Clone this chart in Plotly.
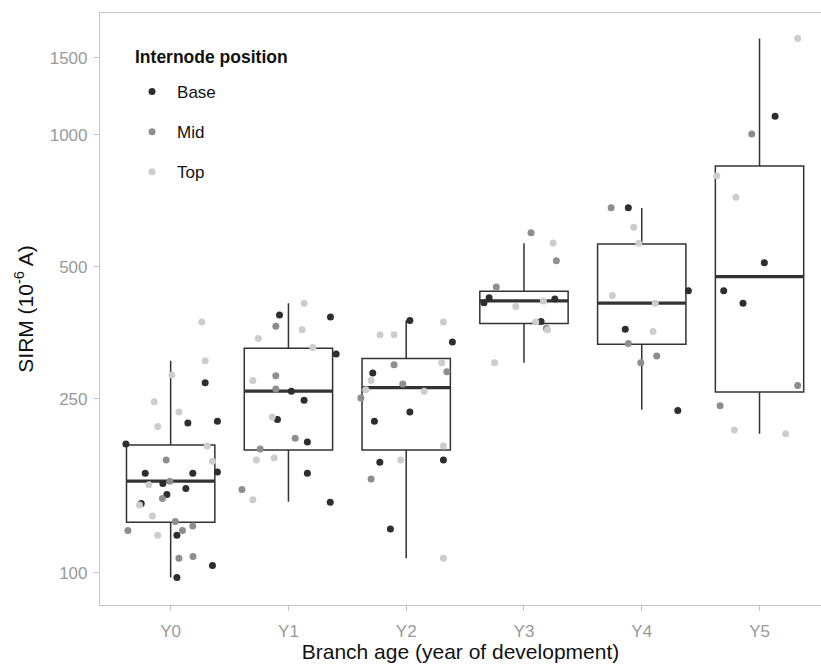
import plotly.graph_objects as go

# ---------------- data ----------------
categories = ["Y0", "Y1", "Y2", "Y3", "Y4", "Y5"]
positions = ["Base", "Mid", "Top"]

# box statistics (10^-6 A)
box_q1 = [130.5, 191, 191, 371, 333, 259]
box_median = [162, 260, 265, 418, 413, 475]
box_q3 = [196, 326, 309, 440, 564, 850]
box_low = [97.6, 145.5, 108, 302, 236, 208]
box_high = [305, 413, 377, 566, 681, 1660]

# jittered points: (category index, jitter, value)
base_cat = [0]*14 + [1]*9 + [2]*8 + [3]*4 + [4]*4 + [5]*4
base_jit = [0.293, 0.146, 0.397, -0.38, -0.216, 0.188, 0.397, -0.066, 0.129, -0.032, -0.25, 0.053, 0.355, 0.053,
            -0.076, 0.357, 0.405, 0.025, 0.133, -0.093, 0.161, 0.161, 0.355,
            0.031, 0.392, -0.284, 0.031, -0.27, -0.224, 0.316, -0.134,
            -0.296, -0.34, 0.262, 0.145,
            -0.114, 0.396, -0.14, 0.306,
            0.132, 0.041, -0.304, -0.14]
base_val = [272, 220, 222, 197, 169, 169, 170, 160, 156, 151, 144, 122, 104, 97.6,
            388, 384, 316, 260, 248, 224, 199, 169, 145,
            377, 337, 286, 233, 222, 179, 181, 126,
            425, 414, 422, 375,
            682, 441, 360, 235,
            1103, 511, 441, 413]

mid_cat = [0]*9 + [1]*6 + [2]*5 + [3]*4 + [4]*4 + [5]*3
mid_jit = [-0.038, -0.007, -0.07, 0.04, 0.1, 0.188, -0.363, 0.07, 0.19,
           -0.107, -0.107, -0.107, 0.057, -0.24, -0.395,
           -0.103, 0.345, -0.029, -0.385, -0.298,
           0.06, 0.275, -0.235, 0.19,
           -0.26, -0.114, -0.008, 0.127,
           -0.066, 0.324, -0.335]
mid_val = [181, 162, 148, 131, 125, 128, 125, 108, 109,
           366, 282, 263, 203, 192, 155,
           299, 288, 270, 251, 164,
           598, 516, 450, 362,
           682, 334, 302, 313,
           1005, 268, 241]

top_cat = [0]*12 + [1]*9 + [2]*10 + [3]*6 + [4]*5 + [5]*5
top_jit = [0.265, 0.293, 0.01, -0.14, 0.07, -0.11, 0.31, 0.355, -0.185, -0.265, -0.155, -0.11,
           0.133, -0.255, 0.116, 0.207, -0.302, -0.138, -0.272, -0.121, -0.302,
           0.316, -0.222, -0.103, 0.302, -0.298, -0.343, 0.152, 0.316, -0.046, 0.316,
           0.247, -0.07, 0.165, 0.1, 0.2, -0.25,
           -0.068, -0.025, -0.25, 0.115, 0.096,
           0.324, -0.363, -0.2, -0.214, 0.222]
top_val = [374, 305, 283, 246, 233, 216, 195, 180, 159, 143, 135, 122,
           413, 343, 359, 327, 275, 227, 181, 183, 147,
           374, 350, 350, 302, 275, 262, 260, 195, 181, 108,
           567, 406, 418, 374, 359, 302,
           616, 566, 430, 413, 356,
           1660, 807, 721, 212, 208]

y_ticks = [100, 250, 500, 1000, 1500]

colors = {"Base": "#2e2e2e", "Mid": "#8e8e8e", "Top": "#cdcdcd"}

# ---------------- figure ----------------
fig = go.Figure()

idx = list(range(len(categories)))
fig.add_trace(go.Box(
    x=idx, q1=box_q1, median=box_median, q3=box_q3,
    lowerfence=box_low, upperfence=box_high,
    boxpoints=False, width=0.75, whiskerwidth=0,
    line=dict(color="#333333", width=1.5), fillcolor="rgba(255,255,255,0)",
    showlegend=False, hoverinfo="skip",
))

# thicker median bars
mx, my = [], []
for i, m in zip(idx, box_median):
    mx += [i - 0.375, i + 0.375, None]
    my += [m, m, None]
fig.add_trace(go.Scatter(x=mx, y=my, mode="lines",
                         line=dict(color="#333333", width=3.2),
                         showlegend=False, hoverinfo="skip"))

for name, cats, jit, vals in [("Base", base_cat, base_jit, base_val),
                              ("Mid", mid_cat, mid_jit, mid_val),
                              ("Top", top_cat, top_jit, top_val)]:
    fig.add_trace(go.Scatter(
        x=[c + j for c, j in zip(cats, jit)], y=vals, mode="markers", name=name,
        legendgroup=name,
        marker=dict(color=colors[name], size=7, line=dict(width=0)),
    ))

FONT = "Liberation Sans, Arial, sans-serif"
axis_font = dict(family=FONT, size=17, color="#999999")
fig.update_layout(
    width=821, height=664,
    margin=dict(l=100, r=0, t=13, b=59),
    paper_bgcolor="white", plot_bgcolor="white",
    font=dict(family=FONT, color="#000000"),
    legend=dict(
        x=0.0375, y=0.897, xanchor="left", yanchor="top",
        bgcolor="rgba(255,255,255,0)",
        font=dict(size=17, color="#111111"),
        tracegroupgap=15, itemsizing="trace", itemwidth=40,
    ),
    annotations=[dict(
        text="<b>Internode position</b>", xref="paper", yref="paper",
        x=0.0458, y=0.9257, xanchor="left", yanchor="middle", showarrow=False,
        font=dict(family=FONT, size=17.5, color="#111111"),
    )],
    xaxis=dict(
        range=[-0.6, 5.522], tickvals=idx, ticktext=categories,
        showline=True, linecolor="#c4c4c4", linewidth=1.2, mirror=True,
        ticks="outside", ticklen=5, tickcolor="#c4c4c4", tickwidth=1.2,
        ticklabelstandoff=5,
        showgrid=False, zeroline=False, tickfont=axis_font,
        title=dict(text="Branch age (year of development)",
                   font=dict(size=21, color="#111111"), standoff=4),
    ),
    yaxis=dict(
        type="log", range=[1.9269, 3.2785], tickvals=y_ticks,
        ticktext=[str(v) for v in y_ticks],
        showline=True, linecolor="#c4c4c4", linewidth=1.2,
        ticks="outside", ticklen=5, tickcolor="#c4c4c4", tickwidth=1.2,
        ticklabelstandoff=3,
        showgrid=False, zeroline=False, tickfont=axis_font,
        title=dict(text="SIRM (10<sup>-6</sup> A)",
                   font=dict(size=21, color="#111111"), standoff=10),
    ),
)

fig.write_html("out.html")
